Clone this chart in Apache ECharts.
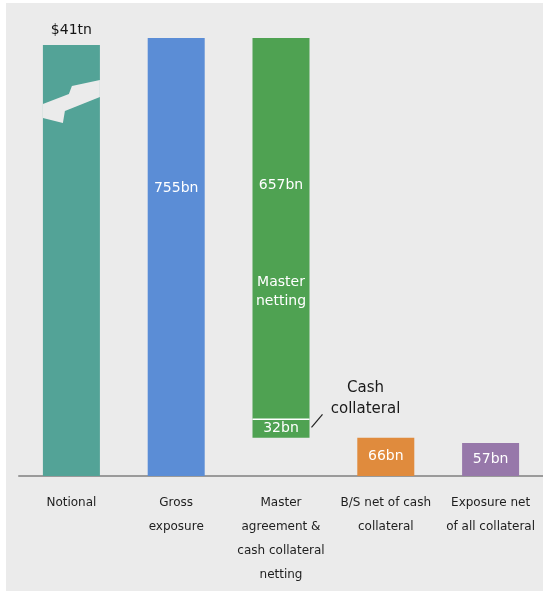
<!DOCTYPE html>
<html>
<head>
<meta charset="utf-8">
<title>Exposure after netting and collateral</title>
<script src="https://cdn.jsdelivr.net/npm/echarts@6/dist/echarts.min.js"></script>
<style>
  html, body { margin: 0; padding: 0; background: #ffffff; }
  #panel { position: absolute; left: 6px; top: 3px; width: 537px; height: 588px; background: #ebebeb; }
  #chart { position: absolute; left: 0; top: 0; width: 543px; height: 597px; }
</style>
</head>
<body>
<div id="panel"></div>
<div id="chart"></div>
<script>
// Category labels along the x axis
const categories = [
  'Notional',
  'Gross\nexposure',
  'Master\nagreement &\ncash collateral\nnetting',
  'B/S net of cash\ncollateral',
  'Exposure net\nof all collateral'
];

// Values (bn unless stated)
const notionalTn = 41;          // notional amount, $tn
const notionalBarBn = 743;      // the notional bar is drawn broken, cut just below the gross bar
const grossBn = 755;
const masterNettingBn = 657;
const cashCollateralBn = 32;
const bsNetBn = 66;
const exposureNetBn = 57;

// Floor of the floating netting bar: gross less netting less cash collateral
const nettingFloorBn = grossBn - masterNettingBn - cashCollateralBn;

const COLORS = {
  notional: '#53a397',
  gross: '#5b8dd6',
  netting: '#4fa252',
  bsNet: '#e08b3d',
  exposure: '#9778aa'
};
const PANEL = '#ebebeb';
const FONT = 'DejaVu Sans';
const BAR_W = 57;

// Lightning-shaped break across the notional bar (offsets from the bar's top-left)
const breakShape = [[0, 59], [26, 49], [29, 41], [57, 35], [57, 52], [22, 66], [20, 78], [0, 73]];

const bn = v => v + 'bn';
const inBar = { show: true, color: '#ffffff', fontFamily: FONT, fontSize: 14 };

const chart = echarts.init(document.getElementById('chart'), null, { renderer: 'canvas' });

chart.setOption({
  backgroundColor: 'transparent',
  animation: false,
  grid: { left: 19, right: 0, top: 38, bottom: 121, containLabel: false, outerBoundsMode: 'none' },
  xAxis: {
    type: 'category',
    data: categories,
    axisLine: { show: true, lineStyle: { color: '#9a9a9a', width: 2 } },
    axisTick: { show: false },
    splitLine: { show: false },
    axisLabel: {
      interval: 0,
      margin: 15,
      color: '#1e1e1e',
      fontFamily: FONT,
      fontSize: 12,
      lineHeight: 24,
      align: 'center',
      verticalAlign: 'top'
    }
  },
  yAxis: {
    type: 'value',
    min: 0,
    max: grossBn,
    show: false,
    splitLine: { show: false }
  },
  series: [
    {
      // invisible support lifting the netting bar to its floor
      name: 'base',
      type: 'bar',
      stack: 'w',
      barWidth: BAR_W,
      silent: true,
      itemStyle: { color: 'transparent' },
      data: [0, 0, nettingFloorBn, 0, 0]
    },
    {
      name: 'main',
      type: 'bar',
      stack: 'w',
      barWidth: BAR_W,
      data: [
        {
          value: notionalBarBn,
          itemStyle: { color: COLORS.notional },
          label: { show: true, position: 'top', distance: 8, color: '#151515', fontFamily: FONT, fontSize: 14,
                   formatter: '$' + notionalTn + 'tn' }
        },
        {
          value: grossBn,
          itemStyle: { color: COLORS.gross },
          label: Object.assign({}, inBar, { position: 'insideTop', distance: 143, formatter: bn(grossBn) })
        },
        {
          value: cashCollateralBn,
          itemStyle: { color: COLORS.netting },
          label: Object.assign({}, inBar, { position: 'inside', formatter: bn(cashCollateralBn) })
        },
        {
          value: bsNetBn,
          itemStyle: { color: COLORS.bsNet },
          label: Object.assign({}, inBar, { position: 'inside', formatter: bn(bsNetBn) })
        },
        {
          value: exposureNetBn,
          itemStyle: { color: COLORS.exposure },
          label: Object.assign({}, inBar, { position: 'inside', formatter: bn(exposureNetBn) })
        }
      ]
    },
    {
      name: 'master netting',
      type: 'bar',
      stack: 'w',
      barWidth: BAR_W,
      data: [
        null, null,
        {
          value: masterNettingBn,
          itemStyle: { color: COLORS.netting },
          label: {
            show: true,
            position: 'insideTop',
            distance: 137,
            align: 'center',
            formatter: '{v|' + bn(masterNettingBn) + '}\n{s| }\n{m|Master}\n{m|netting}',
            rich: {
              v: { color: '#ffffff', fontFamily: FONT, fontSize: 14, lineHeight: 20, align: 'center' },
              s: { fontSize: 10, lineHeight: 78 },
              m: { color: '#ffffff', fontFamily: FONT, fontSize: 14, lineHeight: 19, align: 'center' }
            }
          }
        },
        null, null
      ]
    },
    {
      // break mark, segment divider and cash-collateral callout
      name: 'decor',
      type: 'custom',
      z: 5,
      silent: true,
      clip: false,
      encode: { x: 0, y: [1, 2] },
      data: [
        [0, notionalBarBn, notionalBarBn],
        [2, nettingFloorBn, nettingFloorBn + cashCollateralBn]
      ],
      renderItem: function (params, api) {
        const cat = api.value(0);
        const half = BAR_W / 2;
        if (params.dataIndex === 0) {
          const top = api.coord([cat, api.value(1)]);
          const left = top[0] - half;
          return {
            type: 'polygon',
            shape: { points: breakShape.map(p => [left + p[0], top[1] + p[1]]) },
            style: { fill: PANEL }
          };
        }
        const lo = api.coord([cat, api.value(1)]);
        const hi = api.coord([cat, api.value(2)]);
        const left = lo[0] - half;
        const right = lo[0] + half;
        const mid = (lo[1] + hi[1]) / 2;
        return {
          type: 'group',
          children: [
            { type: 'line', shape: { x1: left, y1: hi[1], x2: right, y2: hi[1] },
              style: { stroke: '#ffffff', lineWidth: 1.5 } },
            { type: 'line', shape: { x1: right + 2, y1: mid - 1, x2: right + 13, y2: mid - 14 },
              style: { stroke: '#222222', lineWidth: 1.2 } },
            { type: 'text',
              style: { text: 'Cash\ncollateral', x: right + 56, y: mid - 30, align: 'center', verticalAlign: 'middle',
                       fontFamily: FONT, fontSize: 15, lineHeight: 21, fill: '#1a1a1a' } }
          ]
        };
      }
    }
  ]
});
</script>
</body>
</html>
